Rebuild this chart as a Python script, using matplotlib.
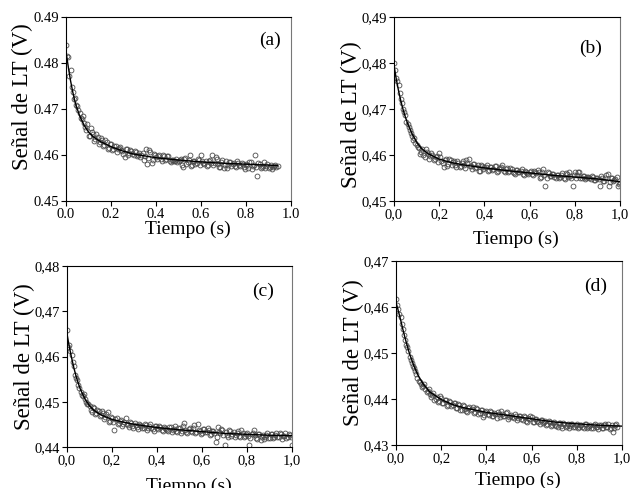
import numpy as np
import matplotlib
matplotlib.use("Agg")
import matplotlib.pyplot as plt

plt.rcParams['font.family'] = ['Liberation Serif', 'DejaVu Serif']

# sampled signal, one value every 10 ms (first set at t = 0, 0.01, ...)
dt = 0.01
sig_a = [0.4840, 0.4812, 0.4785, 0.4738, 0.4724, 0.4706, 0.4691, 0.4678, 0.4669, 0.4655,
         0.4642, 0.4658, 0.4646, 0.4634, 0.4640, 0.4628, 0.4632, 0.4622, 0.4628, 0.4615,
         0.4623, 0.4614, 0.4619, 0.4612, 0.4617, 0.4608, 0.4596, 0.4612, 0.4604, 0.4609,
         0.4599, 0.4606, 0.4601, 0.4596, 0.4604, 0.4598, 0.4580, 0.4611, 0.4582, 0.4603,
         0.4595, 0.4598, 0.4591, 0.4600, 0.4589, 0.4597, 0.4586, 0.4590, 0.4587, 0.4592,
         0.4586, 0.4591, 0.4575, 0.4593, 0.4584, 0.4599, 0.4578, 0.4588, 0.4583, 0.4590,
         0.4600, 0.4582, 0.4586, 0.4579, 0.4589, 0.4600, 0.4583, 0.4592, 0.4575, 0.4584,
         0.4572, 0.4588, 0.4578, 0.4585, 0.4580, 0.4576, 0.4586, 0.4579, 0.4583, 0.4574,
         0.4581, 0.4572, 0.4584, 0.4576, 0.4600, 0.4555, 0.4580, 0.4573, 0.4584, 0.4576,
         0.4571, 0.4579, 0.4574, 0.4578, 0.4576]
sig_b = [0.4800, 0.4768, 0.4752, 0.4722, 0.4700, 0.4686, 0.4668, 0.4655, 0.4641, 0.4636,
         0.4622, 0.4615, 0.4607, 0.4600, 0.4612, 0.4603, 0.4597, 0.4601, 0.4592, 0.4598,
         0.4604, 0.4588, 0.4575, 0.4591, 0.4580, 0.4589, 0.4584, 0.4578, 0.4586, 0.4574,
         0.4582, 0.4578, 0.4590, 0.4592, 0.4576, 0.4581, 0.4571, 0.4579, 0.4565, 0.4577,
         0.4573, 0.4579, 0.4567, 0.4574, 0.4569, 0.4576, 0.4565, 0.4572, 0.4578, 0.4564,
         0.4571, 0.4566, 0.4570, 0.4561, 0.4568, 0.4563, 0.4566, 0.4559, 0.4565, 0.4561,
         0.4564, 0.4558, 0.4566, 0.4560, 0.4563, 0.4553, 0.4570, 0.4533, 0.4562, 0.4555,
         0.4559, 0.4553, 0.4557, 0.4551, 0.4556, 0.4549, 0.4560, 0.4552, 0.4555, 0.4533,
         0.4563, 0.4556, 0.4562, 0.4551, 0.4554, 0.4550, 0.4553, 0.4548, 0.4552, 0.4546,
         0.4550, 0.4533, 0.4549, 0.4543, 0.4556, 0.4533, 0.4551, 0.4544, 0.4547, 0.4533,
         0.4540]
sig_c = [0.4658, 0.4625, 0.4603, 0.4578, 0.4552, 0.4538, 0.4522, 0.4512, 0.4505, 0.4496,
         0.4490, 0.4478, 0.4486, 0.4475, 0.4480, 0.4470, 0.4476, 0.4466, 0.4478, 0.4458,
         0.4463, 0.4438, 0.4465, 0.4454, 0.4459, 0.4450, 0.4465, 0.4448, 0.4455, 0.4446,
         0.4453, 0.4444, 0.4451, 0.4447, 0.4441, 0.4449, 0.4443, 0.4450, 0.4439, 0.4446,
         0.4441, 0.4447, 0.4438, 0.4445, 0.4440, 0.4436, 0.4444, 0.4438, 0.4446, 0.4434,
         0.4441, 0.4436, 0.4452, 0.4433, 0.4440, 0.4435, 0.4442, 0.4431, 0.4450, 0.4436,
         0.4431, 0.4440, 0.4433, 0.4437, 0.4429, 0.4436, 0.4412, 0.4445, 0.4432, 0.4438,
         0.4405, 0.4426, 0.4437, 0.4424, 0.4433, 0.4427, 0.4436, 0.4421, 0.4430, 0.4425,
         0.4432, 0.4405, 0.4428, 0.4437, 0.4419, 0.4429, 0.4416, 0.4427, 0.4421, 0.4430,
         0.4420, 0.4428, 0.4423, 0.4431, 0.4421, 0.4429, 0.4424, 0.4430, 0.4422, 0.4427,
         0.4405]
sig_d = [0.4617, 0.4596, 0.4578, 0.4552, 0.4528, 0.4512, 0.4492, 0.4478, 0.4468, 0.4454,
         0.4440, 0.4432, 0.4428, 0.4422, 0.4418, 0.4410, 0.4408, 0.4398, 0.4405, 0.4396,
         0.4402, 0.4391, 0.4397, 0.4388, 0.4393, 0.4386, 0.4391, 0.4380, 0.4386, 0.4377,
         0.4384, 0.4373, 0.4380, 0.4376, 0.4382, 0.4372, 0.4378, 0.4369, 0.4375, 0.4366,
         0.4373, 0.4365, 0.4371, 0.4362, 0.4368, 0.4372, 0.4360, 0.4368, 0.4363, 0.4371,
         0.4361, 0.4366, 0.4358, 0.4364, 0.4359, 0.4363, 0.4355, 0.4361, 0.4349, 0.4357,
         0.4360, 0.4351, 0.4356, 0.4350, 0.4355, 0.4347, 0.4352, 0.4346, 0.4351, 0.4343,
         0.4349, 0.4341, 0.4348, 0.4342, 0.4347, 0.4340, 0.4346, 0.4341, 0.4345, 0.4339,
         0.4346, 0.4340, 0.4344, 0.4338, 0.4345, 0.4340, 0.4343, 0.4338, 0.4346, 0.4339,
         0.4344, 0.4338, 0.4343, 0.4340, 0.4345, 0.4337, 0.4329, 0.4343, 0.4339]

# second set of samples, shifted half a step (t = 0.005, 0.015, ...)
half_a = [0.4815, 0.4772, 0.4748, 0.4722, 0.4708, 0.4697, 0.4680, 0.4684, 0.4660, 0.4668,
          0.4641, 0.4649, 0.4631, 0.4645, 0.4625, 0.4637, 0.4619, 0.4633, 0.4613, 0.4625,
          0.4610, 0.4620, 0.4606, 0.4616, 0.4610, 0.4603, 0.4614, 0.4600, 0.4610, 0.4603,
          0.4608, 0.4597, 0.4604, 0.4600, 0.4590, 0.4612, 0.4593, 0.4606, 0.4589, 0.4600,
          0.4592, 0.4599, 0.4588, 0.4597, 0.4591, 0.4598, 0.4585, 0.4589, 0.4586, 0.4584,
          0.4590, 0.4578, 0.4592, 0.4581, 0.4590, 0.4576, 0.4587, 0.4580, 0.4592, 0.4578,
          0.4586, 0.4581, 0.4577, 0.4588, 0.4583, 0.4579, 0.4596, 0.4580, 0.4573, 0.4590,
          0.4578, 0.4571, 0.4584, 0.4577, 0.4582, 0.4573, 0.4583, 0.4576, 0.4581, 0.4570,
          0.4578, 0.4584, 0.4570, 0.4579, 0.4574, 0.4582, 0.4571, 0.4577, 0.4572, 0.4580,
          0.4575, 0.4570, 0.4577, 0.4573]
half_b = [0.4785, 0.4760, 0.4735, 0.4712, 0.4694, 0.4672, 0.4660, 0.4648, 0.4632, 0.4627,
          0.4618, 0.4603, 0.4612, 0.4596, 0.4606, 0.4592, 0.4604, 0.4589, 0.4596, 0.4584,
          0.4595, 0.4582, 0.4590, 0.4577, 0.4592, 0.4579, 0.4586, 0.4573, 0.4583, 0.4576,
          0.4588, 0.4571, 0.4583, 0.4577, 0.4569, 0.4580, 0.4574, 0.4566, 0.4578, 0.4570,
          0.4575, 0.4566, 0.4573, 0.4568, 0.4576, 0.4562, 0.4570, 0.4575, 0.4565, 0.4569,
          0.4562, 0.4571, 0.4564, 0.4558, 0.4567, 0.4562, 0.4569, 0.4557, 0.4564, 0.4559,
          0.4565, 0.4556, 0.4562, 0.4568, 0.4550, 0.4563, 0.4557, 0.4551, 0.4561, 0.4554,
          0.4558, 0.4549, 0.4556, 0.4552, 0.4560, 0.4547, 0.4558, 0.4563, 0.4550, 0.4556,
          0.4549, 0.4562, 0.4551, 0.4555, 0.4547, 0.4553, 0.4549, 0.4554, 0.4545, 0.4551,
          0.4547, 0.4554, 0.4544, 0.4550, 0.4558, 0.4542, 0.4549, 0.4545, 0.4552, 0.4538]
half_c = [0.4622, 0.4612, 0.4588, 0.4560, 0.4548, 0.4530, 0.4516, 0.4518, 0.4500, 0.4494,
          0.4482, 0.4488, 0.4472, 0.4482, 0.4468, 0.4479, 0.4462, 0.4472, 0.4455, 0.4466,
          0.4456, 0.4461, 0.4450, 0.4458, 0.4447, 0.4455, 0.4451, 0.4444, 0.4452, 0.4443,
          0.4449, 0.4440, 0.4448, 0.4442, 0.4451, 0.4438, 0.4446, 0.4441, 0.4436, 0.4447,
          0.4439, 0.4444, 0.4435, 0.4442, 0.4437, 0.4445, 0.4433, 0.4440, 0.4436, 0.4443,
          0.4432, 0.4446, 0.4437, 0.4430, 0.4441, 0.4434, 0.4448, 0.4433, 0.4438, 0.4428,
          0.4439, 0.4434, 0.4443, 0.4427, 0.4436, 0.4431, 0.4421, 0.4434, 0.4440, 0.4426,
          0.4433, 0.4422, 0.4435, 0.4428, 0.4421, 0.4432, 0.4425, 0.4437, 0.4422, 0.4429,
          0.4424, 0.4420, 0.4431, 0.4426, 0.4418, 0.4428, 0.4422, 0.4417, 0.4426, 0.4420,
          0.4429, 0.4419, 0.4426, 0.4421, 0.4430, 0.4418, 0.4425, 0.4420, 0.4428, 0.4423]
half_d = [0.4605, 0.4585, 0.4562, 0.4540, 0.4518, 0.4505, 0.4485, 0.4472, 0.4460, 0.4446,
          0.4436, 0.4426, 0.4433, 0.4415, 0.4421, 0.4404, 0.4412, 0.4401, 0.4394, 0.4406,
          0.4392, 0.4398, 0.4385, 0.4395, 0.4384, 0.4392, 0.4380, 0.4389, 0.4375, 0.4386,
          0.4379, 0.4372, 0.4383, 0.4378, 0.4370, 0.4380, 0.4368, 0.4376, 0.4360, 0.4372,
          0.4368, 0.4374, 0.4364, 0.4370, 0.4359, 0.4367, 0.4373, 0.4362, 0.4369, 0.4357,
          0.4364, 0.4360, 0.4367, 0.4354, 0.4362, 0.4357, 0.4364, 0.4352, 0.4359, 0.4362,
          0.4350, 0.4357, 0.4352, 0.4346, 0.4354, 0.4349, 0.4344, 0.4353, 0.4341, 0.4348,
          0.4343, 0.4339, 0.4347, 0.4338, 0.4345, 0.4341, 0.4337, 0.4346, 0.4339, 0.4344,
          0.4336, 0.4343, 0.4339, 0.4346, 0.4337, 0.4342, 0.4336, 0.4344, 0.4339, 0.4334,
          0.4343, 0.4337, 0.4345, 0.4339, 0.4335, 0.4343, 0.4338, 0.4346]

# fitted curves
fit_t = [0.0, 0.01, 0.02, 0.03, 0.04, 0.05, 0.06, 0.08, 0.10, 0.12, 0.15,
         0.20, 0.25, 0.30, 0.40, 0.50, 0.60, 0.70, 0.80, 0.90, 1.00]
fit_t_a = fit_t[:-1] + [0.94]
fit_a = [0.4825, 0.4792, 0.4762, 0.4737, 0.4716, 0.4700, 0.4686, 0.4665, 0.4650, 0.4640, 0.4630,
         0.4618, 0.4609, 0.4602, 0.4594, 0.4589, 0.4585, 0.4582, 0.4580, 0.4578, 0.4577]
fit_b = [0.4795, 0.4765, 0.4740, 0.4718, 0.4699, 0.4683, 0.4669, 0.4646, 0.4628, 0.4615, 0.4603,
         0.4591, 0.4584, 0.4579, 0.4572, 0.4566, 0.4561, 0.4556, 0.4552, 0.4548, 0.4542]
fit_c = [0.4650, 0.4622, 0.4598, 0.4576, 0.4557, 0.4541, 0.4527, 0.4506, 0.4491, 0.4481, 0.4471,
         0.4461, 0.4455, 0.4450, 0.4443, 0.4438, 0.4434, 0.4430, 0.4428, 0.4426, 0.4425]
fit_d = [0.4610, 0.4592, 0.4573, 0.4552, 0.4533, 0.4515, 0.4498, 0.4471, 0.4449, 0.4433, 0.4415,
         0.4399, 0.4388, 0.4381, 0.4371, 0.4364, 0.4357, 0.4350, 0.4346, 0.4343, 0.4341]

xticks = [0.0, 0.2, 0.4, 0.6, 0.8, 1.0]
xlabels_dot = ['0.0', '0.2', '0.4', '0.6', '0.8', '1.0']
xlabels_comma = ['0,0', '0,2', '0,4', '0,6', '0,8', '1,0']
yticks_ab = [0.45, 0.46, 0.47, 0.48, 0.49]
ylabels_a = ['0.45', '0.46', '0.47', '0.48', '0.49']
ylabels_b = ['0,45', '0,46', '0,47', '0,48', '0,49']
yticks_c = [0.44, 0.45, 0.46, 0.47, 0.48]
ylabels_c = ['0,44', '0,45', '0,46', '0,47', '0,48']
yticks_d = [0.43, 0.44, 0.45, 0.46, 0.47]
ylabels_d = ['0,43', '0,44', '0,45', '0,46', '0,47']

W, H = 632, 488
fig = plt.figure(figsize=(W / 100, H / 100), dpi=100)


def panel(rect, sig, half, ft, fv, yt, yl, xl, tag, tagpos, xpad, ylab_y):
    ax = fig.add_axes(rect)
    t = np.arange(len(sig)) * dt
    t2 = np.arange(len(half)) * dt + dt / 2
    for tt, vv in ((t, sig), (t2, half)):
        ax.plot(tt, vv, 'o', ms=3.5, mfc='none', mec='#4a4a4a', mew=0.6, zorder=2)
    ax.plot(ft, fv, '-', color='black', lw=1.0, zorder=3)
    ax.set_xlim(0, 1.0)
    ax.set_ylim(yt[0], yt[-1])
    ax.set_xticks(xticks)
    ax.set_xticklabels(xl)
    ax.set_yticks(yt)
    ax.set_yticklabels(yl)
    ax.tick_params(direction='out', length=3.5, width=0.8, labelsize=10.5, pad=1.5)
    for s in ax.spines.values():
        s.set_linewidth(0.8)
    ax.spines['right'].set_color('#777777')
    ax.set_xlabel('Tiempo (s)', fontsize=14, labelpad=xpad, x=0.54)
    ax.set_ylabel('Señal de LT (V)', fontsize=16.5, labelpad=0, y=ylab_y)
    ax.text(tagpos[0], tagpos[1], tag, transform=ax.transAxes, fontsize=14,
            ha='center', va='center')
    return ax


panel([66 / W, 1 - 201 / H, 225 / W, 184 / H], sig_a, half_a, fit_t_a, fit_a,
      yticks_ab, ylabels_a, xlabels_dot, '(a)', (0.905, 0.875), -0.5, 0.565)
panel([394 / W, 1 - 201 / H, 226 / W, 184 / H], sig_b, half_b, fit_t, fit_b,
      yticks_ab, ylabels_b, xlabels_comma, '(b)', (0.87, 0.83), 7, 0.47)
panel([67 / W, 1 - 447 / H, 225 / W, 181 / H], sig_c, half_c, fit_t, fit_c,
      yticks_c, ylabels_c, xlabels_comma, '(c)', (0.87, 0.86), 8, 0.5)
panel([396 / W, 1 - 445 / H, 226 / W, 184 / H], sig_d, half_d, fit_t, fit_d,
      yticks_d, ylabels_d, xlabels_comma, '(d)', (0.885, 0.86), 5, 0.5)

fig.savefig('out.png', dpi=100)
